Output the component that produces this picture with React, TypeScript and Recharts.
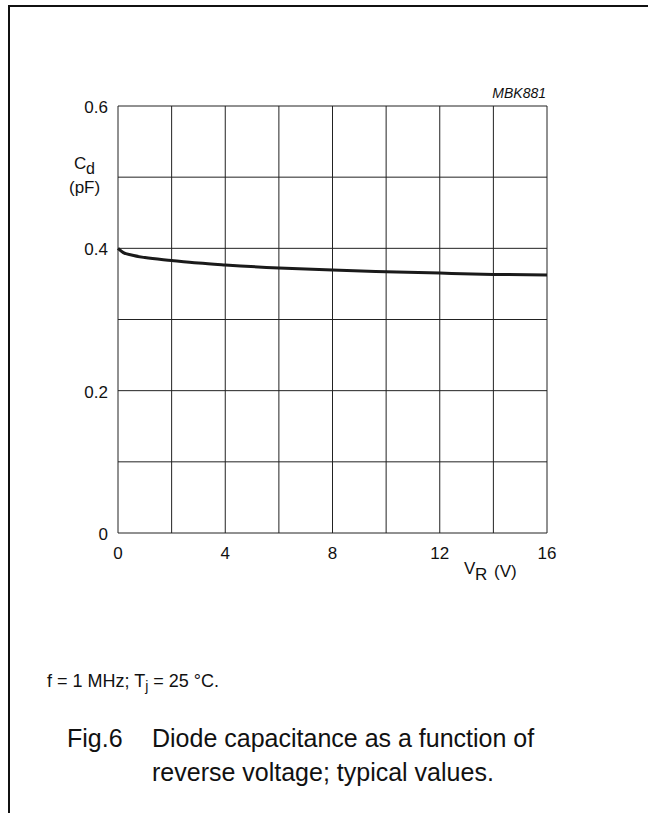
import React from 'react';
import { LineChart, Line, XAxis, YAxis, CartesianGrid } from 'recharts';

// reverse voltage V_R (V) and diode capacitance C_d (pF)
const voltage = [0, 0.2, 0.5, 1, 2, 3, 4, 6, 8, 10, 12, 14, 16];
const capacitance = [0.4, 0.394, 0.3906, 0.387, 0.383, 0.3793, 0.3766, 0.3723, 0.3694, 0.3672, 0.3652, 0.3634, 0.3624];

const xTicks = [0, 2, 4, 6, 8, 10, 12, 14, 16];
const xTickLabels = ['0', '', '4', '', '8', '', '12', '', '16'];
const yTicks = [0, 0.1, 0.2, 0.3, 0.4, 0.5, 0.6];
const yTickLabels = ['0', '', '0.2', '', '0.4', '', '0.6'];

const chartData = voltage.map((v, i) => ({ v, cd: capacitance[i] }));

const FONT = '"Liberation Sans", Arial, Helvetica, sans-serif';

const XTick = ({ x, y, payload }: any) => {
  const label = xTickLabels[xTicks.indexOf(payload.value)];
  if (!label) return <g />;
  return (
    <text x={x} y={y + 18} textAnchor="middle" fontSize={17} fontFamily={FONT} fill="#111">
      {label}
    </text>
  );
};

const YTick = ({ x, y, payload }: any) => {
  const idx = yTicks.findIndex((t) => Math.abs(t - payload.value) < 1e-9);
  const label = yTickLabels[idx];
  if (!label) return <g />;
  return (
    <text x={x - 2} y={y + 7} textAnchor="end" fontSize={17} fontFamily={FONT} fill="#111">
      {label}
    </text>
  );
};

export default function App() {
  return (
    <div
      style={{
        position: 'absolute',
        left: 0,
        top: 0,
        width: 648,
        height: 813,
        background: '#fff',
        overflow: 'hidden',
        fontFamily: FONT,
      }}
    >
      {/* page frame */}
      <div
        style={{
          position: 'absolute',
          left: 8,
          top: 5,
          width: 640,
          height: 808,
          borderTop: '2px solid #111',
          borderLeft: '2px solid #111',
          boxSizing: 'border-box',
        }}
      />

      <div style={{ position: 'absolute', left: 0, top: 0 }}>
        <LineChart
          width={648}
          height={620}
          data={chartData}
          margin={{ top: 106, right: 101, bottom: 57, left: 58 }}
        >
          <CartesianGrid stroke="#222" strokeWidth={1} />
          <XAxis
            type="number"
            dataKey="v"
            domain={[0, 16]}
            ticks={xTicks}
            interval={0}
            axisLine={false}
            tickLine={false}
            height={30}
            tick={<XTick />}
          />
          <YAxis
            type="number"
            domain={[0, 0.6]}
            ticks={yTicks}
            interval={0}
            axisLine={false}
            tickLine={false}
            width={60}
            tick={<YTick />}
          />
          <Line
            type="monotone"
            dataKey="cd"
            stroke="#1a1a1a"
            strokeWidth={3}
            dot={false}
            isAnimationActive={false}
          />
        </LineChart>
      </div>

      {/* axis titles, drawing code and captions */}
      <svg
        width={648}
        height={813}
        style={{ position: 'absolute', left: 0, top: 0, pointerEvents: 'none' }}
        fontFamily={FONT}
        fill="#111"
      >
        <text x={546} y={98} fontSize={14} fontStyle="italic" textAnchor="end">
          MBK881
        </text>

        <text x={74} y={169} fontSize={17}>C</text>
        <text x={86} y={174} fontSize={16}>d</text>
        <text x={69} y={193} fontSize={17}>(pF)</text>

        <text x={464} y={574} fontSize={17}>V</text>
        <text x={475} y={580} fontSize={17}>R</text>
        <text x={494} y={577} fontSize={17}>(V)</text>

        <text x={47} y={687} fontSize={18}>
          f = 1 MHz; T<tspan fontSize={14} dy={4}>j</tspan>
          <tspan dy={-4}> = 25 °C.</tspan>
        </text>

        <text x={67} y={747} fontSize={25}>Fig.6</text>
        <text x={152} y={747} fontSize={25}>Diode capacitance as a function of</text>
        <text x={152} y={781} fontSize={25}>reverse voltage; typical values.</text>
      </svg>
    </div>
  );
}
